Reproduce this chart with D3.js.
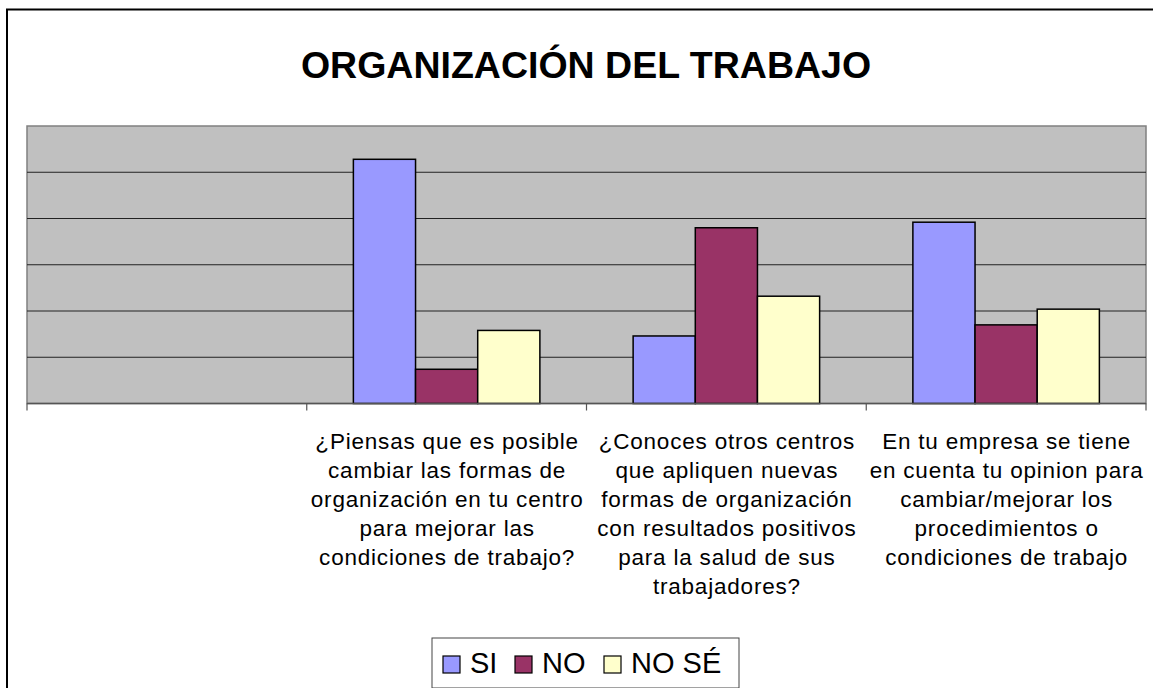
<!DOCTYPE html>
<html>
<head>
<meta charset="utf-8">
<script src="https://cdn.jsdelivr.net/npm/d3@7"></script>
<style>
  body { margin: 0; background: #fff; }
  text { font-family: "Liberation Sans", Arial, sans-serif; }
</style>
</head>
<body>
<div id="chart"></div>
<script>
const categories = ["", "q1", "q2", "q3"];
const categoryLabels = [
  [],
  ["¿Piensas que es posible", "cambiar las formas de", "organización en tu centro", "para mejorar las", "condiciones de trabajo?"],
  ["¿Conoces otros centros", "que apliquen nuevas", "formas de organización", "con resultados positivos", "para la salud de sus", "trabajadores?"],
  ["En tu empresa se tiene", "en cuenta tu opinion para", "cambiar/mejorar los", "procedimientos o", "condiciones de trabajo"]
];
const seriesNames = ["SI", "NO", "NO SÉ"];
const siValues = [null, 26.4, 7.3, 19.6];
const noValues = [null, 3.7, 19.0, 8.5];
const noseValues = [null, 7.9, 11.6, 10.2];
const yTicks = [0, 5, 10, 15, 20, 25, 30];
const colors = ["#9999FF", "#993366", "#FFFFCC"];

const width = 1153, height = 688;
const plot = {left: 27, right: 1146, top: 126, bottom: 403.5};

const svg = d3.select("#chart")
    .append("svg")
    .attr("width", width)
    .attr("height", height);

// chart frame (only left/top visible in the picture)
svg.append("rect")
    .attr("x", 7).attr("y", 9.5)
    .attr("width", width + 10).attr("height", height + 10)
    .attr("fill", "#fff")
    .attr("stroke", "#000")
    .attr("stroke-width", 2);

svg.append("text")
    .attr("x", 586)
    .attr("y", 78)
    .attr("text-anchor", "middle")
    .attr("font-size", 37.5)
    .attr("font-weight", "bold")
    .text("ORGANIZACIÓN DEL TRABAJO");

const x0 = d3.scaleBand()
    .domain(categories)
    .range([plot.left, plot.right]);

const x1 = d3.scaleBand()
    .domain(seriesNames)
    .range([0, x0.bandwidth()])
    .paddingOuter(0.75);

const y = d3.scaleLinear()
    .domain([0, 30])
    .range([plot.bottom, plot.top]);

svg.append("rect")
    .attr("x", plot.left).attr("y", plot.top)
    .attr("width", plot.right - plot.left)
    .attr("height", plot.bottom - plot.top)
    .attr("fill", "#C0C0C0")
    .attr("stroke", "#808080")
    .attr("stroke-width", 1.5);

svg.append("g")
    .selectAll("line")
    .data(yTicks.slice(1, -1))
    .join("line")
    .attr("x1", plot.left).attr("x2", plot.right)
    .attr("y1", d => y(d)).attr("y2", d => y(d))
    .attr("stroke", "#222")
    .attr("stroke-width", 1.2);

const series = [siValues, noValues, noseValues];
series.forEach((vals, si) => {
    svg.append("g")
        .selectAll("rect")
        .data(categories.map((c, i) => ({c, v: vals[i]})).filter(d => d.v != null))
        .join("rect")
        .attr("x", d => x0(d.c) + x1(seriesNames[si]))
        .attr("y", d => y(d.v))
        .attr("width", x1.bandwidth())
        .attr("height", d => y(0) - y(d.v))
        .attr("fill", colors[si])
        .attr("stroke", "#000")
        .attr("stroke-width", 1.5);
});

// category axis with ticks at boundaries
const xAxis = svg.append("g");
xAxis.append("line")
    .attr("x1", plot.left).attr("x2", plot.right)
    .attr("y1", plot.bottom).attr("y2", plot.bottom)
    .attr("stroke", "#555").attr("stroke-width", 1.5);
const bounds = categories.map(c => x0(c)).concat([plot.right]);
xAxis.selectAll("line.tick")
    .data(bounds)
    .join("line")
    .attr("class", "tick")
    .attr("x1", d => d).attr("x2", d => d)
    .attr("y1", plot.bottom).attr("y2", plot.bottom + 7)
    .attr("stroke", "#555").attr("stroke-width", 1.2);

const labels = svg.append("g")
    .attr("font-size", 22.5)
    .attr("text-anchor", "middle")
    .attr("fill", "#000");
categories.forEach((c, i) => {
    const cx = x0(c) + x0.bandwidth() / 2 + 0.5;
    const t = labels.append("text")
        .attr("x", cx)
        .attr("y", 449);
    categoryLabels[i].forEach((line, j) => {
        t.append("tspan")
            .attr("x", cx)
            .attr("dy", j === 0 ? 0 : 29)
            .attr("letter-spacing", 0.8)
            .text(line);
    });
});

// legend
const legend = svg.append("g");
legend.append("rect")
    .attr("x", 432).attr("y", 638)
    .attr("width", 307).attr("height", 50)
    .attr("fill", "#fff")
    .attr("stroke", "#444")
    .attr("stroke-width", 1);
const legendX = [443, 515, 604];
seriesNames.forEach((name, i) => {
    legend.append("rect")
        .attr("x", legendX[i]).attr("y", 656)
        .attr("width", 17).attr("height", 17)
        .attr("fill", colors[i])
        .attr("stroke", "#000")
        .attr("stroke-width", 1.2);
    legend.append("text")
        .attr("x", legendX[i] + 27)
        .attr("y", 673)
        .attr("font-size", 29)
        .text(name);
});
</script>
</body>
</html>
